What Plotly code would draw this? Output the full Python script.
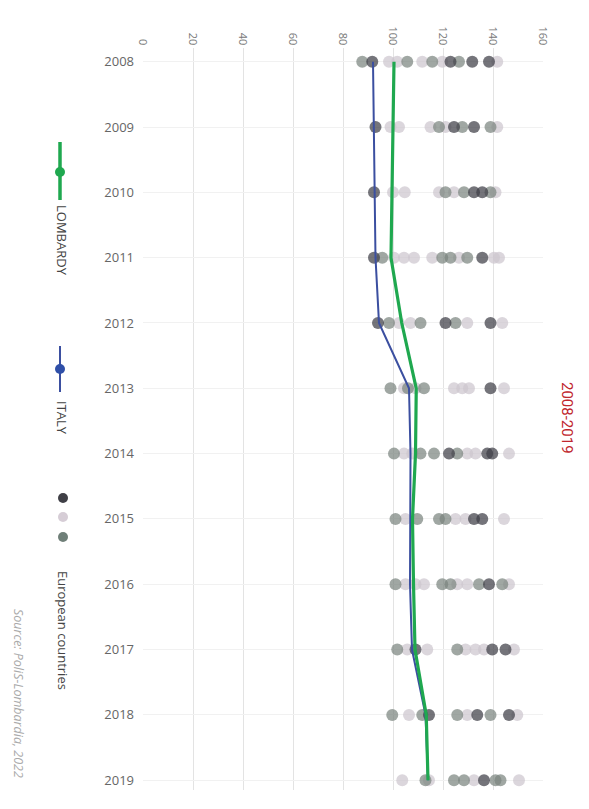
import plotly.graph_objects as go

years = [2008, 2009, 2010, 2011, 2012, 2013, 2014, 2015, 2016, 2017, 2018, 2019]
lombardy = [100.4, 100.0, 99.8, 99.2, 103.5, 109.3, 109.0, 107.8, 108.2, 108.8, 113.3, 114.0]
italy = [92.0, 92.4, 92.7, 93.0, 94.4, 106.4, 107.0, 106.8, 106.8, 107.6, 113.0, 114.0]

eu_dark = [
    [91.7, 123.0, 131.7, 138.4],
    [93.0, 124.4, 132.4],
    [92.4, 132.4, 135.7],
    [92.4, 135.7],
    [94.0, 121.0, 139.0],
    [139.0],
    [122.4, 137.7, 139.7],
    [132.4, 135.7],
    [138.4],
    [109.0, 139.7, 145.0],
    [114.4, 133.7, 146.4],
    [136.4],
]
eu_medium = [
    [87.7, 105.7, 115.7, 126.4],
    [118.4, 127.7, 139.0],
    [121.0, 128.4, 139.0],
    [95.7, 119.7, 123.0, 129.7],
    [98.4, 111.0, 125.0],
    [99.0, 106.0, 112.4],
    [100.4, 111.0, 116.4, 125.7],
    [101.0, 109.7, 118.4, 121.0],
    [101.0, 119.7, 123.0, 134.4, 143.7],
    [101.7, 125.7],
    [99.7, 111.7, 125.7, 139.0],
    [113.0, 124.4, 128.4, 141.0, 143.0],
]
eu_light = [
    [98.4, 101.7, 111.7, 119.7, 141.7],
    [99.0, 102.4, 115.0, 121.0, 141.7],
    [100.0, 104.7, 118.4, 124.4, 141.0],
    [100.4, 104.4, 108.4, 115.7, 126.4, 140.4, 142.4],
    [102.4, 107.0, 129.7, 143.7],
    [104.4, 109.0, 124.4, 127.7, 130.4, 144.4],
    [104.4, 107.7, 129.7, 133.0, 146.4],
    [105.0, 125.0, 129.0, 144.4],
    [105.0, 109.0, 112.4, 125.7, 129.7, 146.4],
    [105.7, 113.7, 129.0, 133.0, 136.4, 148.4],
    [106.4, 129.7, 149.7],
    [103.7, 114.4, 132.4, 150.4],
]
value_ticks = [0, 20, 40, 60, 80, 100, 120, 140, 160]

# page body has an 8px margin; all layout positions below are in screen pixels
OFF = 8
W, H = 589, 809
L, T = 143 - OFF, 48 - OFF
R = W - (543 - OFF)
B = H - (790 - OFF)
PW, PH = W - L - R, H - T - B

def px(x):
    return (x - OFF - L) / PW

def py(y):
    return (H - B - (y - OFF)) / PH

fig = go.Figure()

groups = [("#cdc6cf", eu_light), ("#7b8580", eu_medium), ("#3f3f46", eu_dark)]
for color, grp in groups:
    xs, ys = [], []
    for yr, vals in zip(years, grp):
        for v in vals:
            xs.append(v)
            ys.append(yr)
    fig.add_trace(go.Scatter(x=xs, y=ys, mode="markers",
                             marker=dict(size=12, color=color, opacity=0.72, line=dict(width=0)),
                             showlegend=False, hoverinfo="x+y"))

fig.add_trace(go.Scatter(x=italy, y=years, mode="lines", line=dict(color="#3b4fa0", width=2),
                         showlegend=False, name="ITALY"))
fig.add_trace(go.Scatter(x=lombardy, y=years, mode="lines", line=dict(color="#1fa84f", width=3.2),
                         showlegend=False, name="LOMBARDY"))

shapes = []
annotations = []

def rot_text(text, x, y, size, color, family="Open Sans", style="normal"):
    annotations.append(dict(text=text, xref="paper", yref="paper", x=px(x), y=py(y), textangle=90,
                            xanchor="center", yanchor="middle", showarrow=False,
                            font=dict(size=size, color=color, family=family, style=style)))

# legend: Lombardy
shapes.append(dict(type="line", xref="paper", yref="paper", x0=px(60), x1=px(60), y0=py(142), y1=py(200),
                   line=dict(color="#1fa84f", width=3.5)))
shapes.append(dict(type="circle", xref="paper", yref="paper", x0=px(55), x1=px(65), y0=py(167), y1=py(177),
                   fillcolor="#1fa84f", line=dict(width=0)))
rot_text("LOMBARDY", 62, 240, 13, "#444")
# legend: Italy
shapes.append(dict(type="line", xref="paper", yref="paper", x0=px(60), x1=px(60), y0=py(346), y1=py(392),
                   line=dict(color="#3b4fa0", width=2)))
shapes.append(dict(type="circle", xref="paper", yref="paper", x0=px(55), x1=px(65), y0=py(364), y1=py(374),
                   fillcolor="#2f4fa8", line=dict(width=0)))
rot_text("ITALY", 62, 418, 13, "#444")
# legend: European countries
for yc, col in [(498, "#3f3f46"), (517, "#d6cdd6"), (537, "#6f7f78")]:
    shapes.append(dict(type="circle", xref="paper", yref="paper", x0=px(58), x1=px(68), y0=py(yc - 5), y1=py(yc + 5),
                       fillcolor=col, line=dict(width=0)))
rot_text("European countries", 63, 630, 13, "#444")
# source
rot_text("Source: PoliS-Lombardia, 2022", 19, 693, 12.5, "#aaaaaa", style="italic")
# title
rot_text("2008-2019", 567, 418, 15, "#c0262d", family="Roboto")

fig.update_layout(
    width=W, height=H,
    margin=dict(l=L, r=R, t=T, b=B, autoexpand=False),
    paper_bgcolor="white", plot_bgcolor="white",
    shapes=shapes, annotations=annotations,
    xaxis=dict(side="top", range=[0, 160], tickvals=value_ticks, tickangle=90, automargin=False,
               showgrid=True, gridcolor="#e3e3e3", gridwidth=1, zeroline=False, showline=False,
               tickfont=dict(size=11, color="#777", family="Open Sans")),
    yaxis=dict(range=[2019.15, 2007.79], tickvals=years, tickangle=0, automargin=False,
               showgrid=True, gridcolor="#f1f1f1", gridwidth=1, zeroline=False, showline=False,
               ticklabelstandoff=8,
               tickfont=dict(size=13, color="#666", family="Open Sans")),
    showlegend=False,
)

fig.write_html("out.html")
